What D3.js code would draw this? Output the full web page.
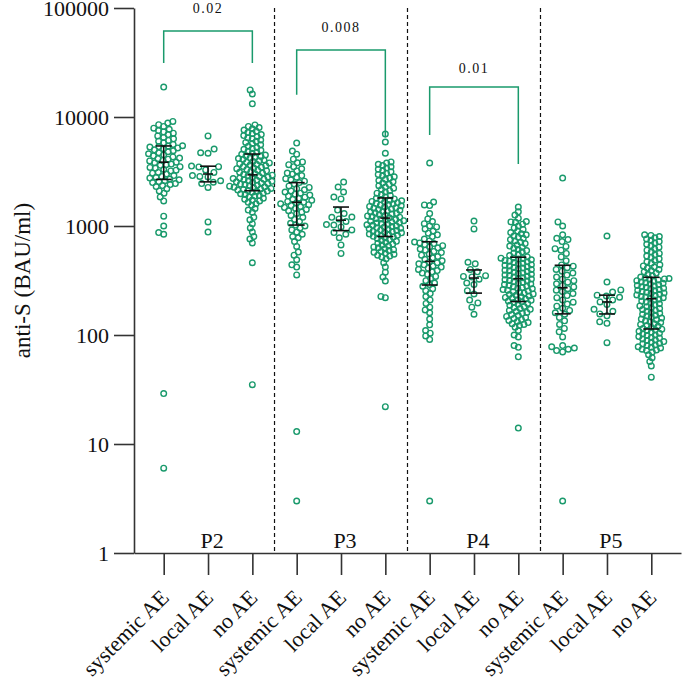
<!DOCTYPE html>
<html>
<head>
<meta charset="utf-8">
<script src="https://cdn.jsdelivr.net/npm/d3@7"></script>
<style>
html,body{margin:0;padding:0;background:#fff;}
svg{display:block;}
text{font-family:"Liberation Serif","Times New Roman",serif;fill:#111;}
</style>
</head>
<body>
<svg id="chart" width="682" height="682"></svg>
<script>
// ---------------- DATA ----------------
const groups = ["P2", "P3", "P4", "P5"];
const aeTypes = ["systemic AE", "local AE", "no AE"];
const yTicks = [1, 10, 100, 1000, 10000, 100000];
const pLabels = ["0.02", "0.008", "0.01"];

const P2_systemic = [6, 29, 840, 870, 1000, 1230, 1700, 1850, 2000, 2100, 2200, 2300, 2350, 2400, 2450, 2500, 2550, 2600, 2650, 2700,
  2750, 2800, 2850, 2900, 3000, 3050, 3100, 3200, 3250, 3300, 3400, 3450, 3500, 3600, 3650, 3700, 3800, 3850, 3950,
  4000, 4100, 4150, 4200, 4300, 4400, 4500, 4600, 4700, 4800, 4900, 5000, 5100, 5200, 5300, 5350, 5400, 5450,
  5600, 5800, 6000, 6100, 6300, 6500, 6700, 6900, 7100, 7300, 7500, 7700, 7900, 8200, 8500, 8800, 9100, 18800];
const P2_local = [880, 1090, 2260, 2450, 2520, 2600, 2820, 2850, 2900, 3100, 3270, 3480, 3500, 3550, 4650, 4700, 5080, 6700];
const P2_noAE = [35, 460, 700, 760, 800, 880, 960, 1050, 1140, 1200, 1340, 1400, 1450, 1550, 1600, 1650, 1700, 1730, 1760, 1800, 1850, 1880, 1900, 1950, 1980, 2000, 2040, 2070,
  2090, 2114, 2138, 2163, 2188, 2213, 2239, 2265, 2291, 2317, 2344, 2371, 2398, 2426, 2454, 2482, 2511, 2540, 2569, 2599, 2629, 2659, 2690, 2721, 2752, 2784, 2816, 2848, 2880,
  2924, 2969, 3015, 3061, 3108, 3156, 3205, 3254, 3304, 3355, 3407, 3459, 3512, 3566, 3621, 3677, 3734, 3791, 3850, 3909, 3969, 4030, 4092, 4155, 4219, 4284, 4350, 4417, 4480,
  4550, 4650, 4750, 4850, 4950, 5050, 5150, 5250, 5400, 5550, 5700, 5850, 6000, 6150, 6300, 6450, 6600, 6750, 6900, 7050, 7200, 7400, 7600, 7800, 8000, 8200, 8450, 13200, 16250, 17700];

const P3_systemic = [3, 13, 356, 420, 440, 490, 540, 577, 650, 720, 780, 800, 840, 880, 920, 960, 1000,
  1020, 1060, 1100, 1150, 1200, 1250, 1300, 1340, 1380, 1420, 1450, 1480, 1510, 1540, 1570, 1600, 1625,
  1650, 1680, 1720, 1760, 1800, 1840, 1880, 1920, 1960, 2000, 2050, 2100, 2150, 2200, 2260, 2330, 2430,
  2500, 2580, 2650, 2720, 2800, 2900, 3000, 3060, 3200, 3350, 3500, 3650, 3800, 3870, 4100, 4560, 4870, 5770];
const P3_local = [560, 670, 780, 840, 870, 920, 980, 1020, 1030, 1100, 1160, 1200, 1210, 1300, 1400, 1770, 1845, 2050, 2280, 2530];
const P3_noAE = [22, 220, 226, 313, 340, 377, 420, 460, 500, 520, 530, 540, 551, 562, 573, 584, 595, 607, 619, 631, 643, 656, 669, 682, 695, 709, 723, 737, 751, 766, 781,
  794, 804, 814, 824, 834, 844, 855, 865, 876, 886, 897, 908, 919, 931, 942, 954, 966, 977, 989, 1002, 1014, 1026, 1039, 1052, 1065, 1078, 1091, 1105, 1118, 1132, 1146, 1160, 1174,
  1190, 1206, 1222, 1238, 1255, 1271, 1288, 1306, 1323, 1341, 1359, 1377, 1395, 1414, 1433, 1452, 1471, 1491, 1511, 1531, 1551, 1572, 1593, 1614, 1636, 1658, 1680, 1702, 1725, 1748, 1771, 1795,
  1850, 1900, 1950, 2000, 2055, 2110, 2165, 2225, 2285, 2345, 2410, 2475, 2540, 2610, 2680, 2750, 2825, 2900, 2975, 3055, 3140, 3225, 3310, 3400, 3490, 3585, 3680, 3780, 3870, 4650, 5900, 6980];

const P4_systemic = [3, 91, 98, 104, 110, 124, 140, 160, 170, 180, 195, 210, 225, 240, 255, 265, 280,
  290, 300, 315, 330, 345, 360, 370, 380, 390, 400, 410, 420, 430, 440, 450, 460, 467,
  480, 495, 510, 525, 540, 555, 570, 585, 600, 615, 630, 645, 660, 675, 690, 700, 713,
  730, 760, 800, 830, 860, 900, 940, 980, 1000, 1050, 1100, 1160, 1300, 1540, 1560, 1660, 3785];
const P4_local = [155, 180, 197, 209, 238, 255, 290, 300, 325, 341, 345, 350, 380, 400, 450, 465, 940, 1110];
const P4_noAE = [14, 63, 77, 80, 96, 100, 110, 118, 122, 125, 127, 130, 133, 136, 139, 142, 145, 148, 151, 154, 158, 161, 165, 168, 172, 175, 179, 183, 187, 191, 195, 199,
  202, 205, 208, 211, 214, 218, 221, 224, 228, 231, 235, 238, 242, 246, 249, 253, 257, 261, 265, 269, 273, 277, 281, 286, 290, 294, 299, 303, 308, 313, 317, 322, 326,
  331, 336, 341, 346, 351, 356, 361, 366, 371, 377, 382, 388, 393, 399, 405, 411, 417, 423, 429, 436, 442, 449, 455, 462, 469, 476, 483, 490, 497, 504, 507, 509,
  520, 535, 550, 565, 580, 595, 610, 625, 640, 655, 670, 690, 710, 730, 750, 770, 790, 810, 830, 850, 870, 900, 930, 960, 1000, 1040, 1080, 1090, 1100, 1180, 1260, 1350, 1490];

const P5_systemic = [3, 70, 72, 74, 76, 78, 80, 96, 107, 115, 125, 135, 145, 155,
  160, 168, 176, 184, 192, 200, 210, 220, 230, 240, 250, 258, 266, 276,
  285, 295, 305, 315, 325, 340, 355, 370, 385, 400, 415, 428, 439,
  480, 520, 560, 600, 620, 650, 720, 750, 770, 830, 1000, 1090, 2755];
const P5_local = [85, 128, 132, 150, 156, 165, 172, 190, 201, 210, 222, 228, 232, 248, 259, 306, 810];
const P5_noAE = [41, 52, 57, 62, 66, 70, 72, 73, 74, 76, 77, 78, 80, 81, 83, 84, 86, 87, 89, 90, 92, 94, 95, 97, 99, 100, 102, 104, 106, 108, 110, 111,
  113, 115, 118, 120, 122, 125, 127, 130, 132, 135, 138, 140, 143, 146, 149, 152, 155, 158, 161, 165, 168, 171, 175, 178, 182, 185, 189, 193, 197, 201, 205, 209, 213,
  217, 220, 223, 226, 230, 233, 236, 240, 243, 247, 250, 254, 258, 261, 265, 269, 273, 277, 281, 285, 289, 293, 298, 302, 306, 311, 315, 320, 324, 327, 330, 333,
  340, 350, 360, 370, 380, 390, 400, 410, 420, 430, 440, 455, 470, 485, 500, 515, 530, 545, 560, 580, 600, 620, 640, 660, 680, 700, 720, 740, 760, 780, 800, 820, 830];

const seriesValues = [
  [P2_systemic, P2_local, P2_noAE],
  [P3_systemic, P3_local, P3_noAE],
  [P4_systemic, P4_local, P4_noAE],
  [P5_systemic, P5_local, P5_noAE]
];

// ---------------- CHART ----------------
(function () {
const GREEN = "#1a9a6c";
const svg = d3.select("#chart");
const mL = 134, mR = 681, mT = 8, mB = 553;

const cats = [];
groups.forEach((g, gi) => aeTypes.forEach((a, ai) => cats.push({id: g + "|" + a, g, a, gi, ai, values: seriesValues[gi][ai]})));

const x = d3.scalePoint().domain(cats.map(c => c.id)).range([mL, mR]).padding(0.67);
const y = d3.scaleLog().domain([1, 100000]).range([mB, mT]);

// dividers
for (let gi = 1; gi < groups.length; gi++) {
  const xv = (x(groups[gi - 1] + "|no AE") + x(groups[gi] + "|systemic AE")) / 2;
  svg.append("line").attr("x1", xv).attr("x2", xv).attr("y1", mT).attr("y2", mB)
    .attr("stroke", "#111").attr("stroke-width", 1.2).attr("stroke-dasharray", "4,3");
}

// beeswarm (spacing depends on how crowded a column is)
const R = 2.8;
function swarm(vals, cx) {
  const n = vals.length;
  const D = n > 100 ? 4.6 : n > 60 ? 5.3 : n > 40 ? 6.2 : 7.4;
  const pts = vals.map(v => ({v, y: y(v)})).sort((a, b) => b.y - a.y);
  const placed = [];
  pts.forEach(p => {
    const near = placed.filter(q => Math.abs(q.y - p.y) < D);
    const cands = [0];
    near.forEach(q => {
      const dx = Math.sqrt(D * D - (q.y - p.y) ** 2);
      cands.push(q.dx + dx, q.dx - dx);
    });
    cands.sort((a, b) => Math.abs(a) - Math.abs(b) || a - b);
    p.dx = 0;
    for (const c of cands) {
      if (near.every(q => (q.dx - c) ** 2 + (q.y - p.y) ** 2 >= D * D - 0.01)) { p.dx = c; break; }
    }
    placed.push(p);
  });
  return placed.map(p => ({x: cx + p.dx, y: p.y}));
}

const dots = svg.append("g");
cats.forEach(c => {
  const cx = x(c.id);
  dots.selectAll(null).data(swarm(c.values, cx)).enter().append("circle")
    .attr("cx", d => d.x).attr("cy", d => d.y).attr("r", R)
    .attr("fill", "none").attr("stroke", GREEN).attr("stroke-width", 1.4);
});

// median + IQR bars
const bars = svg.append("g").attr("stroke", "#111").attr("stroke-width", 1.6);
cats.forEach(c => {
  const s = c.values.slice().sort(d3.ascending);
  const q1 = d3.quantile(s, 0.25), med = d3.quantile(s, 0.5), q3 = d3.quantile(s, 0.75);
  const cx = x(c.id);
  bars.append("line").attr("x1", cx).attr("x2", cx).attr("y1", y(q1)).attr("y2", y(q3));
  bars.append("line").attr("x1", cx - 8).attr("x2", cx + 8).attr("y1", y(q1)).attr("y2", y(q1));
  bars.append("line").attr("x1", cx - 8).attr("x2", cx + 8).attr("y1", y(q3)).attr("y2", y(q3));
  bars.append("line").attr("x1", cx - 5).attr("x2", cx + 5).attr("y1", y(med)).attr("y2", y(med));
});

// axes
const yAxis = svg.append("g").attr("transform", `translate(${mL},0)`)
  .call(d3.axisLeft(y).tickValues(yTicks).tickFormat(d3.format("d")).tickSize(20).tickSizeOuter(0).tickPadding(5));
const xAxis = svg.append("g").attr("transform", `translate(0,${mB})`)
  .call(d3.axisBottom(x).tickSize(22).tickSizeOuter(0).tickFormat(id => id.split("|")[1]));
[yAxis, xAxis].forEach(a => {
  a.selectAll("path,line").attr("stroke", "#333").attr("stroke-width", 1.6);
  a.selectAll("text").style("font-family", '"Liberation Serif", serif').style("font-size", "22px").attr("fill", "#111");
});
yAxis.selectAll("text").attr("dy", "0.36em");
xAxis.selectAll("text").attr("text-anchor", "end")
  .attr("transform", "translate(6,46) rotate(-45)").attr("dy", "0").attr("y", 0).attr("x", 0);

// y label
svg.append("text").attr("transform", `translate(30,${(mT + mB) / 2}) rotate(-90)`)
  .attr("text-anchor", "middle").style("font-size", "23px").text("anti-S (BAU/ml)");

// group labels
groups.forEach(g => {
  svg.append("text").attr("x", x(g + "|local AE") + 4).attr("y", 548)
    .attr("text-anchor", "middle").style("font-size", "22px").text(g);
});

// significance brackets (levels in data units)
const brackets = [
  {g: "P2", topV: 61500, leftV: 31300, rightV: 31300, labelV: 90000},
  {g: "P3", topV: 41200, leftV: 16000, rightV: 6500, labelV: 60000},
  {g: "P4", topV: 18800, leftV: 6840, rightV: 3700, labelV: 25300}
];
brackets.forEach((b, i) => {
  const x1 = x(b.g + "|systemic AE"), x2 = x(b.g + "|no AE");
  svg.append("path")
    .attr("d", `M${x1},${y(b.leftV)}V${y(b.topV)}H${x2}V${y(b.rightV)}`)
    .attr("fill", "none").attr("stroke", GREEN).attr("stroke-width", 1.5);
  svg.append("text").attr("x", (x1 + x2) / 2).attr("y", y(b.labelV))
    .attr("text-anchor", "middle").style("font-size", "14px").style("letter-spacing", "1.5px")
    .text(pLabels[i]);
});
})();
</script>
</body>
</html>
